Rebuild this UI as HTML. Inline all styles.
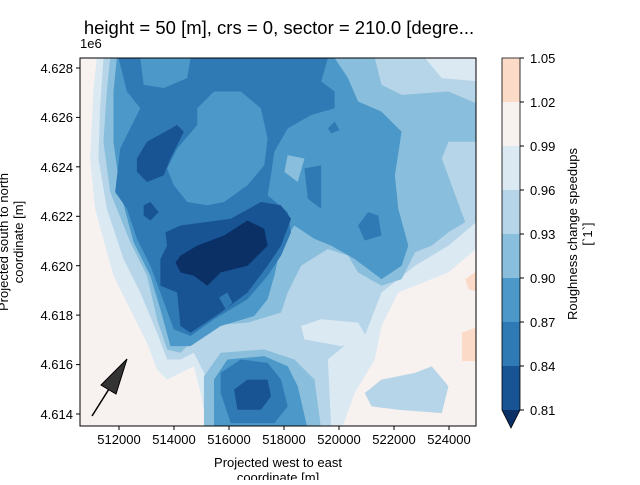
<!DOCTYPE html>
<html><head><meta charset="utf-8"><style>
body{margin:0;background:#fff}
svg text{font-family:"Liberation Sans","DejaVu Sans",sans-serif;font-size:13px;fill:#000}
</style></head><body>
<svg width="640" height="480" viewBox="0 0 640 480" xmlns="http://www.w3.org/2000/svg">
<defs><clipPath id="c"><rect x="80" y="58" width="396" height="368"/></clipPath></defs>
<g clip-path="url(#c)">
<rect x="80" y="58" width="396" height="368" fill="#f7f2f0"/>
<g transform="translate(80,58) scale(0.335)">
<path fill="#dbe9f3" d="M50,0 L1194,0 L1194,560 L1100,640 L950,700 L900,800 L880,900 L820,1000 L780,1110 L380,1110 L360,1000 L340,920 L260,960 L230,930 L200,850 L150,750 L100,650 L45,450 L30,300 L40,100 Z"/>
<path fill="#b7d5e8" d="M70,0 L1194,0 L1194,480 L1100,560 L1000,620 L900,700 L850,830 L800,850 L740,900 L750,1110 L390,1110 L380,960 L340,880 L300,900 L260,900 L230,820 L180,700 L130,600 L80,450 L55,300 L60,150 Z"/>
<path fill="#dbe9f3" d="M1030,0 L1194,0 L1194,70 L1080,60 Z"/>
<path fill="#dbe9f3" d="M660,800 L720,780 L830,790 L860,840 L780,860 L670,840 Z"/>
<path fill="#89bedc" d="M90,0 L880,0 L900,80 L960,110 L1100,100 L1194,140 L1194,250 L1100,250 L1080,300 L1150,490 L1100,520 L1050,560 L1000,580 L960,660 L900,680 L830,640 L800,590 L740,570 L660,620 L620,700 L600,760 L500,790 L380,800 L300,880 L260,870 L230,780 L200,650 L150,550 L90,400 L70,250 L80,100 Z"/>
<path fill="#89bedc" d="M370,1110 L370,950 L420,880 L550,870 L640,900 L700,960 L720,1110 Z"/>
<path fill="#4b98c9" d="M110,0 L760,0 L800,60 L830,130 L900,160 L960,220 L940,350 L950,450 L980,560 L960,620 L900,660 L820,600 L750,560 L700,540 L640,500 L600,560 L580,650 L560,720 L520,770 L420,800 L330,860 L270,860 L240,750 L210,650 L160,550 L120,400 L100,250 L100,100 Z"/>
<path fill="#4b98c9" d="M400,1110 L400,960 L440,900 L550,890 L620,920 L650,980 L680,1110 Z"/>
<path fill="#89bedc" d="M620,290 L670,300 L650,370 L610,340 Z"/>
<path fill="#89bedc" d="M980,210 L1030,200 L1050,260 L1000,270 Z"/>
<path fill="#2f79b5" d="M115,0 L740,0 L720,70 L760,100 L760,150 L690,170 L620,210 L580,280 L570,350 L560,410 L620,460 L630,520 L600,590 L560,650 L500,720 L400,780 L330,830 L280,810 L240,700 L210,620 L170,540 L140,450 L105,400 L120,270 L160,190 L180,150 L140,100 Z"/>
<path fill="#4b98c9" d="M350,150 L400,100 L480,100 L540,150 L560,240 L550,320 L500,380 L430,430 L380,440 L320,430 L280,380 L260,330 L290,270 L350,200 Z"/>
<path fill="#4b98c9" d="M180,0 L330,0 L320,60 L250,90 L190,80 Z"/>
<path fill="#2f79b5" d="M670,330 L720,320 L720,450 L680,420 Z"/>
<path fill="#2f79b5" d="M830,500 L860,460 L890,470 L900,530 L850,545 Z"/>
<path fill="#2f79b5" d="M740,210 L760,190 L775,215 L750,225 Z"/>
<path fill="#185394" d="M170,300 L200,250 L290,200 L310,220 L270,300 L250,350 L200,370 L170,340 Z"/>
<path fill="#185394" d="M190,440 L210,430 L235,460 L210,485 L190,470 Z"/>
<path fill="#185394" d="M255,520 L300,500 L450,480 L540,430 L600,440 L630,480 L600,560 L560,620 L500,700 L420,760 L330,820 L300,800 L290,700 L240,680 L240,600 L260,560 Z"/>
<path fill="#2f79b5" d="M415,715 L440,700 L455,730 L435,750 Z"/>
<path fill="#0a3066" d="M285,610 L300,590 L350,560 L430,530 L500,485 L550,510 L560,560 L500,620 L420,640 L380,680 L340,650 L300,640 Z"/>
<path fill="#2f79b5" d="M420,1000 L420,940 L480,900 L560,910 L600,960 L620,1040 L580,1090 L450,1090 Z"/>
<path fill="#185394" d="M460,990 L500,960 L560,960 L570,1010 L540,1050 L470,1050 Z"/>
<path fill="#fbdbc8" d="M1150,660 L1194,630 L1194,700 L1160,690 Z"/>
<path fill="#fbdbc8" d="M1140,820 L1194,800 L1194,905 L1140,905 Z"/>
<path fill="#b7d5e8" d="M850,1000 L900,960 L1000,940 L1050,920 L1100,980 L1080,1060 L950,1050 L870,1040 Z"/>
</g>
</g>
<rect x="80" y="58" width="396" height="368" fill="none" stroke="#000" stroke-width="1"/>
<line x1="92" y1="416" x2="109" y2="389" stroke="#000" stroke-width="1.5"/>
<polygon points="127,359 101,385 116,394" fill="#333" stroke="#000" stroke-width="1"/>
<g stroke="#000">
<line x1="119" y1="426" x2="119" y2="430"/><line x1="174" y1="426" x2="174" y2="430"/><line x1="229" y1="426" x2="229" y2="430"/><line x1="284" y1="426" x2="284" y2="430"/><line x1="339" y1="426" x2="339" y2="430"/><line x1="394" y1="426" x2="394" y2="430"/><line x1="449" y1="426" x2="449" y2="430"/>
<line x1="76" y1="68" x2="80" y2="68"/><line x1="76" y1="117.4" x2="80" y2="117.4"/><line x1="76" y1="166.8" x2="80" y2="166.8"/><line x1="76" y1="216.3" x2="80" y2="216.3"/><line x1="76" y1="265.7" x2="80" y2="265.7"/><line x1="76" y1="315.1" x2="80" y2="315.1"/><line x1="76" y1="364.6" x2="80" y2="364.6"/><line x1="76" y1="414" x2="80" y2="414"/>
</g>
<g text-anchor="middle">
<text x="119" y="444">512000</text><text x="174" y="444">514000</text><text x="229" y="444">516000</text><text x="284" y="444">518000</text><text x="339" y="444">520000</text><text x="394" y="444">522000</text><text x="449" y="444">524000</text>
<text x="278" y="467">Projected west to east</text><text x="278" y="482">coordinate [m]</text>
<text x="279" y="34" style="font-size:18.5px">height = 50 [m], crs = 0, sector = 210.0 [degre...</text>
</g>
<g text-anchor="end">
<text x="73" y="73">4.628</text><text x="73" y="122">4.626</text><text x="73" y="172">4.624</text><text x="73" y="221">4.622</text><text x="73" y="271">4.620</text><text x="73" y="320">4.618</text><text x="73" y="369">4.616</text><text x="73" y="419">4.614</text>
</g>
<text x="80" y="48">1e6</text>
<text transform="translate(8,242) rotate(-90)" text-anchor="middle">Projected south to north</text>
<text transform="translate(23,242) rotate(-90)" text-anchor="middle">coordinate [m]</text>
<rect x="502" y="58" width="18" height="44" fill="#fbdbc8"/>
<rect x="502" y="102" width="18" height="44" fill="#f7f2f0"/>
<rect x="502" y="146" width="18" height="44" fill="#dbe9f3"/>
<rect x="502" y="190" width="18" height="44" fill="#b7d5e8"/>
<rect x="502" y="234" width="18" height="44" fill="#89bedc"/>
<rect x="502" y="278" width="18" height="44" fill="#4b98c9"/>
<rect x="502" y="322" width="18" height="44" fill="#2f79b5"/>
<rect x="502" y="366" width="18" height="44" fill="#185394"/>
<polygon points="502,410 520,410 511,428" fill="#0a3066"/>
<polygon points="502,58 520,58 520,410 511,428 502,410" fill="none" stroke="#000" stroke-width="0.8"/>
<g stroke="#000"><line x1="520" y1="58" x2="524" y2="58"/><line x1="520" y1="102" x2="524" y2="102"/><line x1="520" y1="146" x2="524" y2="146"/><line x1="520" y1="190" x2="524" y2="190"/><line x1="520" y1="234" x2="524" y2="234"/><line x1="520" y1="278" x2="524" y2="278"/><line x1="520" y1="322" x2="524" y2="322"/><line x1="520" y1="366" x2="524" y2="366"/><line x1="520" y1="410" x2="524" y2="410"/></g>
<g><text x="530" y="63">1.05</text><text x="530" y="107">1.02</text><text x="530" y="151">0.99</text><text x="530" y="195">0.96</text><text x="530" y="239">0.93</text><text x="530" y="283">0.90</text><text x="530" y="327">0.87</text><text x="530" y="371">0.84</text><text x="530" y="415">0.81</text></g>
<text transform="translate(577,234) rotate(-90)" text-anchor="middle">Roughness change speedups</text>
<text transform="translate(592,234) rotate(-90)" text-anchor="middle">[`1`]</text>
</svg>
</body></html>
